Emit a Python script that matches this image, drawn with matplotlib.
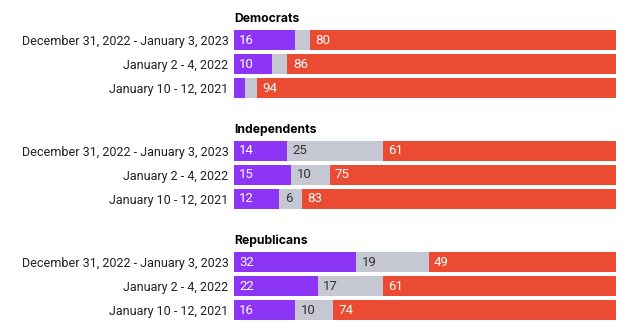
import matplotlib.pyplot as plt
import numpy as np

plt.rcParams['font.family'] = ['Roboto', 'DejaVu Sans']

# groups and poll dates
groups = ["Democrats", "Independents", "Republicans"]
dates = ["December 31, 2022 - January 3, 2023", "January 2 - 4, 2022", "January 10 - 12, 2021"]

# shares per group, one value per date
purple_vals = [[16, 10, 3], [14, 15, 12], [32, 22, 16]]
gray_vals = [[4, 4, 3], [25, 10, 6], [19, 17, 10]]
red_vals = [[80, 86, 94], [61, 75, 83], [49, 61, 74]]

colors = ["#8c35f7", "#c5c8d2", "#eb4b32"]
text_colors = ["white", "#333333", "white"]

W, H = 644, 333
fig = plt.figure(figsize=(W / 100, H / 100), dpi=100)

x0, x1 = 234, 616
for g, name in enumerate(groups):
    top = 28 + 111 * g
    bottom = top + 72
    ax = fig.add_axes([x0 / W, 1 - bottom / H, (x1 - x0) / W, 72 / H])
    segs = np.array([purple_vals[g], gray_vals[g], red_vals[g]], dtype=float)
    totals = segs.sum(axis=0)
    y = np.arange(len(dates))
    left = np.zeros(len(dates))
    for k in range(3):
        w = segs[k] / totals * 100
        ax.barh(y, w, left=left, height=20 / 24, color=colors[k], linewidth=0)
        for i in range(len(dates)):
            if segs[k][i] >= 5:
                ax.text(left[i] + 1.4, y[i], f"{int(segs[k][i])}", va="center", ha="left",
                        color=text_colors[k], fontsize=9.5)
        left += w
    ax.set_xlim(0, 100)
    ax.set_ylim(2.5, -0.5)
    ax.set_yticks(y)
    ax.set_yticklabels(dates, fontsize=9, color="#222222")
    ax.tick_params(axis="y", length=0, pad=4)
    ax.set_xticks([])
    for s in ax.spines.values():
        s.set_visible(False)
    ax.annotate(name, xy=(0, 1), xycoords="axes fraction", xytext=(0, 2.5),
                textcoords="offset points", ha="left", va="bottom",
                fontsize=8.8, fontweight="bold", color="black",
                family=["Inter", "DejaVu Sans"])

fig.savefig("out.png", dpi=100)
